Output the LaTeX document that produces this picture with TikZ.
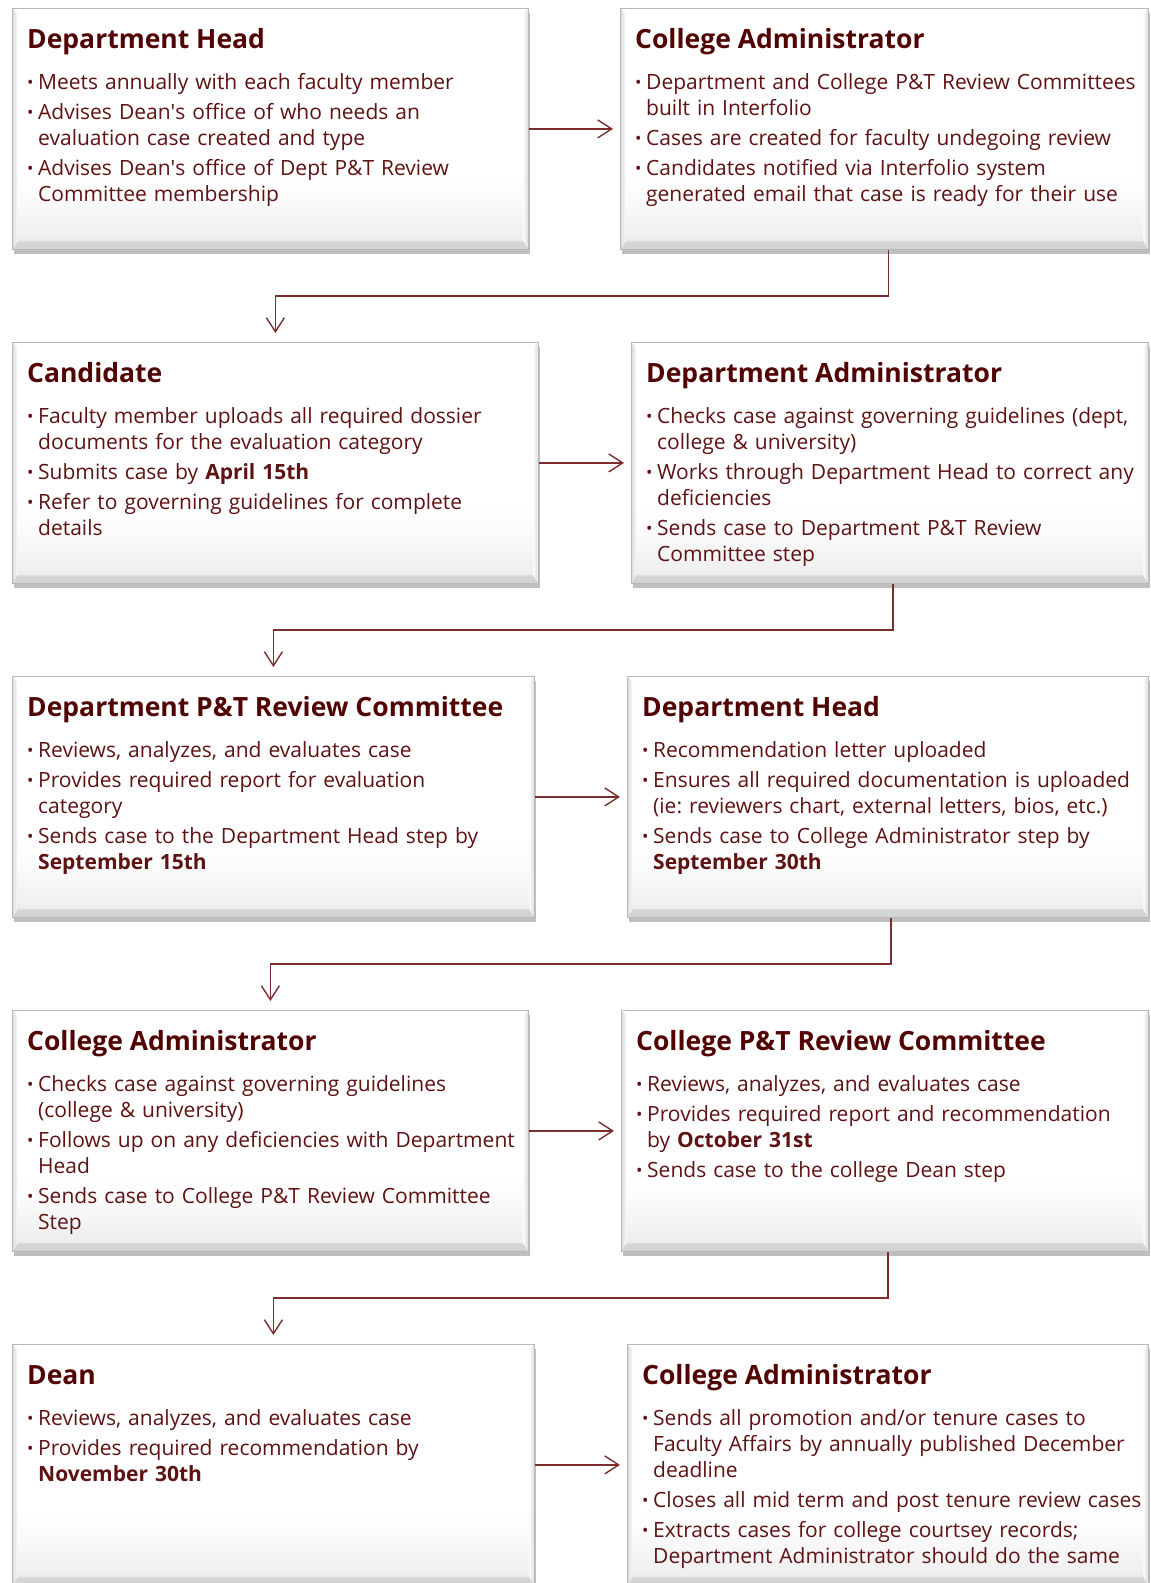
\documentclass[tikz,border=0pt]{standalone}
\usepackage{fontspec}
\setmainfont{Open Sans}
\usetikzlibrary{arrows.meta, shadows}

\definecolor{titlered}{HTML}{520404}
\definecolor{bodyred}{HTML}{5E1212}
\definecolor{linered}{HTML}{7A2E2E}

% soft grey towards the bottom of each box
\pgfdeclareverticalshading{cardshade}{100bp}{color(0bp)=(black!10); color(25bp)=(black!10); color(28bp)=(black!6); color(35bp)=(black!2); color(41bp)=(white); color(100bp)=(white)}

% one bullet point with hanging indent, \brk breaks a line inside it
\newcommand{\bitem}[1]{\hangindent=11pt\hangafter=1\noindent\makebox[11pt][l]{\raisebox{1pt}{\fontsize{17}{17}\selectfont •}}#1\par\vspace{4pt}}
\newcommand{\brk}{\hfil\break}

\begin{document}
\frenchspacing
\begin{tikzpicture}[x=1pt, y=-1pt,
   card/.style={draw=black!28, line width=0.8pt, shading=cardshade, anchor=north west,
      minimum height=241pt, inner sep=0pt,
      drop shadow={shadow xshift=1.5pt, shadow yshift=-4.5pt, opacity=.5},
      path picture={
         % bevel along the lower and side edges
         \shade[top color=black!5, bottom color=black!17]
            (path picture bounding box.south west) -- (path picture bounding box.south east)
            -- ([shift={(-5,-8)}]path picture bounding box.south east)
            -- ([shift={(5,-8)}]path picture bounding box.south west) -- cycle;
         \shade[left color=black!14, right color=black!2]
            (path picture bounding box.south west) -- ([shift={(5,-8)}]path picture bounding box.south west)
            -- ([shift={(5,5)}]path picture bounding box.north west)
            -- (path picture bounding box.north west) -- cycle;
         \shade[left color=black!2, right color=black!14]
            (path picture bounding box.south east) -- ([shift={(-5,-8)}]path picture bounding box.south east)
            -- ([shift={(-5,5)}]path picture bounding box.north east)
            -- (path picture bounding box.north east) -- cycle;
      }},
   cardtitle/.style={anchor=base west, inner sep=0pt, text=titlered,
      font=\fontsize{26.5}{30}\selectfont\bfseries},
   cardbody/.style={anchor=north west, inner sep=0pt, text=bodyred, text width=512pt,
      align=left, font=\fontsize{21}{26}\selectfont},
   flow/.style={draw=linered, line width=1.4pt, -{Straight Barb[length=14pt, width=18pt]}}]
   \useasboundingbox (0,0) rectangle (1151,1583);

   % row 1
   \node[card, minimum width=516pt] (dhead) at (12,8) {};
   \node[cardtitle] (dheadt) at ([shift={(15,40)}]dhead.north west) {Department Head};
   \node[cardbody] (dheadb) at ([shift={(15,65)}]dhead.north west) {%
      \bitem{Meets annually with each faculty member}%
      \bitem{Advises Dean\textquotesingle s office of who needs an\brk evaluation case created and type}%
      \bitem{Advises Dean\textquotesingle s office of Dept P\&T Review\brk Committee membership}};

   \node[card, minimum width=528pt] (cadmin) at (620,8) {};
   \node[cardtitle] (cadmint) at ([shift={(15,40)}]cadmin.north west) {College Administrator};
   \node[cardbody] (cadminb) at ([shift={(15,65)}]cadmin.north west) {%
      \bitem{Department and College P\&T Review Committees\brk built in Interfolio}%
      \bitem{Cases are created for faculty undegoing review}%
      \bitem{Candidates notified via Interfolio system\brk generated email that case is ready for their use}};

   % row 2
   \node[card, minimum width=526pt] (cand) at (12,342) {};
   \node[cardtitle] (candt) at ([shift={(15,40)}]cand.north west) {Candidate};
   \node[cardbody] (candb) at ([shift={(15,65)}]cand.north west) {%
      \bitem{Faculty member uploads all required dossier\brk documents for the evaluation category}%
      \bitem{Submits case by \textbf{April 15th}}%
      \bitem{Refer to governing guidelines for complete\brk details}};

   \node[card, minimum width=517pt] (dadmin) at (631,342) {};
   \node[cardtitle] (dadmint) at ([shift={(15,40)}]dadmin.north west) {Department Administrator};
   \node[cardbody] (dadminb) at ([shift={(15,65)}]dadmin.north west) {%
      \bitem{Checks case against governing guidelines (dept,\brk college \& university)}%
      \bitem{Works through Department Head to correct any\brk deficiencies}%
      \bitem{Sends case to Department P\&T Review\brk Committee step}};

   % row 3
   \node[card, minimum width=522pt] (dcomm) at (12,676) {};
   \node[cardtitle] (dcommt) at ([shift={(15,40)}]dcomm.north west) {Department P\&T Review Committee};
   \node[cardbody] (dcommb) at ([shift={(15,65)}]dcomm.north west) {%
      \bitem{Reviews, analyzes, and evaluates case}%
      \bitem{Provides required report for evaluation\brk category}%
      \bitem{Sends case to the Department Head step by\brk \textbf{September 15th}}};

   \node[card, minimum width=521pt] (dhead2) at (627,676) {};
   \node[cardtitle] (dhead2t) at ([shift={(15,40)}]dhead2.north west) {Department Head};
   \node[cardbody] (dhead2b) at ([shift={(15,65)}]dhead2.north west) {%
      \bitem{Recommendation letter uploaded}%
      \bitem{Ensures all required documentation is uploaded\brk (ie: reviewers chart, external letters, bios, etc.)}%
      \bitem{Sends case to College Administrator step by\brk \textbf{September 30th}}};

   % row 4
   \node[card, minimum width=516pt] (cadmin2) at (12,1010) {};
   \node[cardtitle] (cadmin2t) at ([shift={(15,40)}]cadmin2.north west) {College Administrator};
   \node[cardbody] (cadmin2b) at ([shift={(15,65)}]cadmin2.north west) {%
      \bitem{Checks case against governing guidelines\brk (college \& university)}%
      \bitem{Follows up on any deficiencies with Department\brk Head}%
      \bitem{Sends case to College P\&T Review Committee\brk Step}};

   \node[card, minimum width=527pt] (ccomm) at (621,1010) {};
   \node[cardtitle] (ccommt) at ([shift={(15,40)}]ccomm.north west) {College P\&T Review Committee};
   \node[cardbody] (ccommb) at ([shift={(15,65)}]ccomm.north west) {%
      \bitem{Reviews, analyzes, and evaluates case}%
      \bitem{Provides required report and recommendation\brk by \textbf{October 31st}}%
      \bitem{Sends case to the college Dean step}};

   % row 5
   \node[card, minimum width=522pt] (dean) at (12,1344) {};
   \node[cardtitle] (deant) at ([shift={(15,40)}]dean.north west) {Dean};
   \node[cardbody] (deanb) at ([shift={(15,65)}]dean.north west) {%
      \bitem{Reviews, analyzes, and evaluates case}%
      \bitem{Provides required recommendation by\brk \textbf{November 30th}}};

   \node[card, minimum width=521pt] (cadmin3) at (627,1344) {};
   \node[cardtitle] (cadmin3t) at ([shift={(15,40)}]cadmin3.north west) {College Administrator};
   \node[cardbody] (cadmin3b) at ([shift={(15,65)}]cadmin3.north west) {%
      \bitem{Sends all promotion and/or tenure cases to\brk Faculty Affairs by annually published December\brk deadline}%
      \bitem{Closes all mid term and post tenure review cases}%
      \bitem{Extracts cases for college courtsey records;\brk Department Administrator should do the same}};

   % connectors
   \draw[flow, shorten >=7pt] (dhead.east) -- (cadmin.west);
   \draw[flow, shorten >=7pt] (cand.east) -- (dadmin.west);
   \draw[flow, shorten >=7pt] (dcomm.east) -- (dhead2.west);
   \draw[flow, shorten >=7pt] (cadmin2.east) -- (ccomm.west);
   \draw[flow, shorten >=7pt] (dean.east) -- (cadmin3.west);

   \draw[flow, shorten >=9pt] ([xshift=4pt]cadmin.south) -- ++(0,46) -| (cand.north);
   \draw[flow, shorten >=9pt] ([xshift=3pt]dadmin.south) -- ++(0,46) -| (dcomm.north);
   \draw[flow, shorten >=9pt] ([xshift=3pt]dhead2.south) -- ++(0,46) -| (cadmin2.north);
   \draw[flow, shorten >=9pt] ([xshift=3pt]ccomm.south) -- ++(0,46) -| (dean.north);
\end{tikzpicture}
\end{document}
